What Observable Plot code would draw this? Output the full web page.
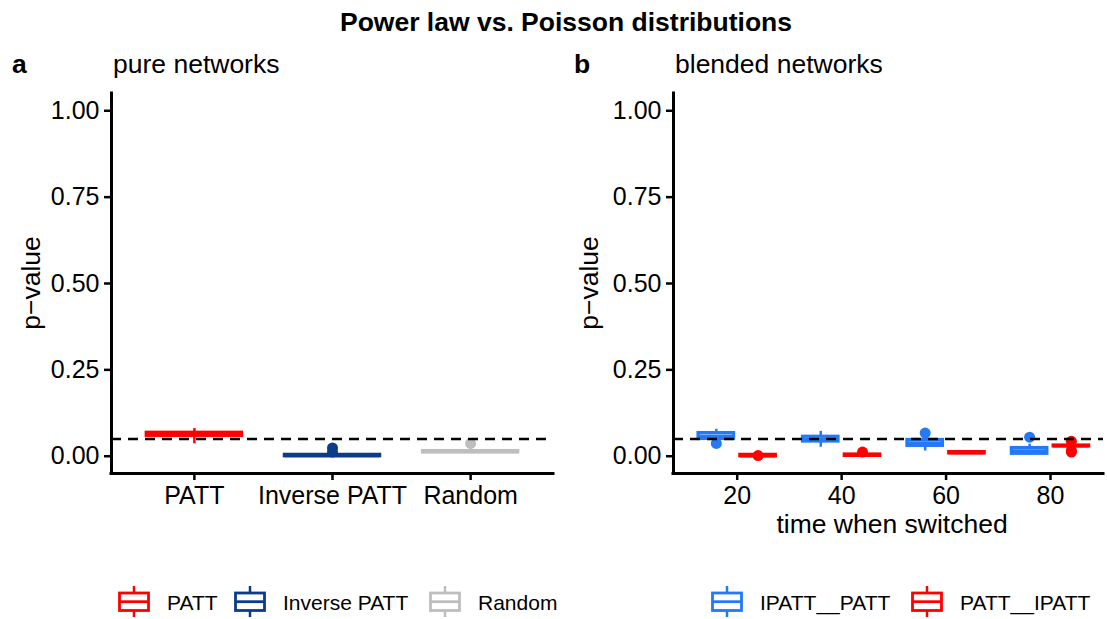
<!DOCTYPE html>
<html><head><meta charset="utf-8">
<script src="https://cdn.jsdelivr.net/npm/d3@7"></script>
<script src="https://cdn.jsdelivr.net/npm/@observablehq/plot@0.6"></script>
<style>
body{margin:0;background:#fff;}
#wrap{position:relative;width:1107px;height:619px;overflow:hidden;background:#fff;}
#wrap > svg{position:absolute;top:0;}
</style></head><body><div id="wrap"></div>
<script>
// ---------- data ----------
const pureCategories = ["PATT", "Inverse PATT", "Random"];
const pureColors = ["#FF0000", "#0B3C8C", "#BEBEBE"];
const pureLow    = [0.036, 0.000, 0.008];
const pureQ1     = [0.059, 0.000, 0.011];
const pureMedian = [0.064, 0.002, 0.013];
const pureQ3     = [0.068, 0.004, 0.015];
const pureHigh   = [0.080, 0.004, 0.028];
const pureOutlierCats   = ["Inverse PATT", "Inverse PATT", "Random"];
const pureOutlierValues = [0.024, 0.012, 0.037];

const blendedTimes  = [20, 40, 60, 80];
const blendedSeries = ["IPATT__PATT", "PATT__IPATT"];
const blendedColors = ["#2479F5", "#FF0000"];
const ipattLow    = [0.050, 0.026, 0.015, 0.003];
const ipattQ1     = [0.050, 0.0425, 0.030, 0.007];
const ipattMedian = [0.0585, 0.0495, 0.0385, 0.0155];
const ipattQ3     = [0.067, 0.0564, 0.047, 0.0237];
const ipattHigh   = [0.078, 0.072, 0.052, 0.035];
const ipattOutlierTimes  = [20, 60, 80];
const ipattOutlierValues = [0.037, 0.067, 0.055];
const pattLow    = [0.000, 0.000, 0.006, 0.020];
const pattQ1     = [0.000, 0.001, 0.008, 0.0285];
const pattMedian = [0.001, 0.003, 0.010, 0.030];
const pattQ3     = [0.004, 0.005, 0.012, 0.031];
const pattHigh   = [0.004, 0.006, 0.013, 0.037];
const pattOutlierTimes  = [20, 40, 80, 80, 80];
const pattOutlierValues = [0.002, 0.012, 0.043, 0.016, 0.012];

const yTicks = [0, 0.25, 0.5, 0.75, 1];
const threshold = 0.05;

// ---------- styling ----------
const FONT = '"Liberation Sans", Arial, Helvetica, sans-serif';
const Y_DOMAIN = [-0.05, 1.05];
const BOX_SW = 3.2, LINE_SW = 2.5, AXIS_SW = 3;

// ---------- tables ----------
const pure = pureCategories.map((c, i) => ({
  cat: c, pos: i + 1, low: pureLow[i], q1: pureQ1[i], median: pureMedian[i], q3: pureQ3[i], high: pureHigh[i]
}));
const pureOut = pureOutlierCats.map((c, i) => ({cat: c, pos: pureCategories.indexOf(c) + 1, value: pureOutlierValues[i]}));

const DODGE = 4, HALF = 3.4;
const blended = [];
blendedTimes.forEach((t, i) => {
  blended.push({series: blendedSeries[0], pos: t - DODGE, low: ipattLow[i], q1: ipattQ1[i], median: ipattMedian[i], q3: ipattQ3[i], high: ipattHigh[i]});
  blended.push({series: blendedSeries[1], pos: t + DODGE, low: pattLow[i], q1: pattQ1[i], median: pattMedian[i], q3: pattQ3[i], high: pattHigh[i]});
});
const blendedOut = [
  ...ipattOutlierTimes.map((t, i) => ({series: blendedSeries[0], pos: t - DODGE, value: ipattOutlierValues[i]})),
  ...pattOutlierTimes.map((t, i) => ({series: blendedSeries[1], pos: t + DODGE, value: pattOutlierValues[i]}))
];

function boxMarks(data, out, key, half, xmin) {
  return [
    Plot.ruleX(data, {x: "pos", y1: "low", y2: "high", stroke: key, strokeWidth: LINE_SW}),
    Plot.rect(data, {x1: d => d.pos - half, x2: d => d.pos + half, y1: "q1", y2: "q3", fill: "white", stroke: key, strokeWidth: BOX_SW}),
    Plot.ruleY(data, {x1: d => d.pos - half, x2: d => d.pos + half, y: "median", stroke: key, strokeWidth: BOX_SW}),
    Plot.dot(out, {x: "pos", y: "value", r: 5.5, fill: key, stroke: "none"}),
    Plot.ruleY([threshold], {stroke: "#000", strokeWidth: LINE_SW, strokeDasharray: "10,7"}),
    Plot.ruleX([xmin], {stroke: "#000", strokeWidth: AXIS_SW, strokeLinecap: "square"}),
    Plot.ruleY([Y_DOMAIN[0]], {stroke: "#000", strokeWidth: AXIS_SW, strokeLinecap: "square"}),
    Plot.axisY({ticks: yTicks, tickFormat: d3.format(".2f"), tickSize: 7, tickPadding: 5, strokeWidth: LINE_SW, label: null})
  ];
}

const baseStyle = {fontFamily: FONT, fontSize: "25px", color: "#000", background: "transparent", overflow: "visible"};

const xA = [0.4, 3.6];
const plotA = Plot.plot({
  width: 560, height: 545, marginTop: 93, marginBottom: 72, marginLeft: 111, marginRight: 7,
  style: baseStyle,
  x: {domain: xA},
  y: {domain: Y_DOMAIN},
  color: {domain: pureCategories, range: pureColors},
  marks: [
    ...boxMarks(pure, pureOut, "cat", 0.345, xA[0]),
    Plot.axisX({ticks: [1, 2, 3], tickFormat: i => pureCategories[i - 1], tickSize: 7, tickPadding: 6, strokeWidth: LINE_SW, label: null})
  ]
});
plotA.style.left = "0px";

const xB = [7.8, 90.15];
const plotB = Plot.plot({
  width: 547, height: 545, marginTop: 93, marginBottom: 72, marginLeft: 113, marginRight: 4,
  style: baseStyle,
  x: {domain: xB},
  y: {domain: Y_DOMAIN},
  color: {domain: blendedSeries, range: blendedColors},
  marks: [
    ...boxMarks(blended, blendedOut, "series", HALF, xB[0]),
    Plot.axisX({ticks: blendedTimes, tickFormat: d3.format("d"), tickSize: 7, tickPadding: 6, strokeWidth: LINE_SW, label: null})
  ]
});
plotB.style.left = "560px";

const wrap = document.getElementById("wrap");
wrap.appendChild(plotA);
wrap.appendChild(plotB);

// ---------- overlay texts and legends ----------
const svg = d3.select(wrap).append("svg")
  .attr("width", 1107).attr("height", 619)
  .style("left", "0px").style("pointer-events", "none")
  .style("font-family", FONT).style("fill", "#000");

svg.append("text").attr("x", 566).attr("y", 31).attr("text-anchor", "middle")
  .style("font-size", "26.5px").style("font-weight", "bold").text("Power law vs. Poisson distributions");

const panels = [
  {tag: "a", tx: 12, title: "pure networks", x: 113, ylab: 40},
  {tag: "b", tx: 574, title: "blended networks", x: 675, ylab: 598}
];
panels.forEach(p => {
  svg.append("text").attr("x", p.tx).attr("y", 73).style("font-size", "26.5px").style("font-weight", "bold").text(p.tag);
  svg.append("text").attr("x", p.x).attr("y", 73).style("font-size", "26.5px").text(p.title);
  svg.append("text").attr("transform", `translate(${p.ylab},283) rotate(-90)`).attr("text-anchor", "middle")
    .style("font-size", "26.5px").text("p\u2212value");
});
svg.append("text").attr("x", 892).attr("y", 533).attr("text-anchor", "middle").style("font-size", "26.5px").text("time when switched");

function legend(names, colors, xs) {
  names.forEach((n, i) => {
    const x = xs[i];
    const g = svg.append("g").attr("transform", `translate(${x},0)`);
    g.append("line").attr("x1", 16).attr("x2", 16).attr("y1", 586).attr("y2", 617).attr("stroke", colors[i]).attr("stroke-width", 2.5);
    g.append("rect").attr("x", 1.5).attr("y", 593).attr("width", 29).attr("height", 17.5)
      .attr("fill", "white").attr("stroke", colors[i]).attr("stroke-width", 2.8);
    g.append("line").attr("x1", 1.5).attr("x2", 30.5).attr("y1", 601.7).attr("y2", 601.7).attr("stroke", colors[i]).attr("stroke-width", 2.8);
    g.append("text").attr("x", 49).attr("y", 609.5).style("font-size", "21px").text(n);
  });
}
legend(pureCategories, pureColors, [118, 234, 429]);
legend(blendedSeries, blendedColors, [711, 911]);
</script></body></html>
